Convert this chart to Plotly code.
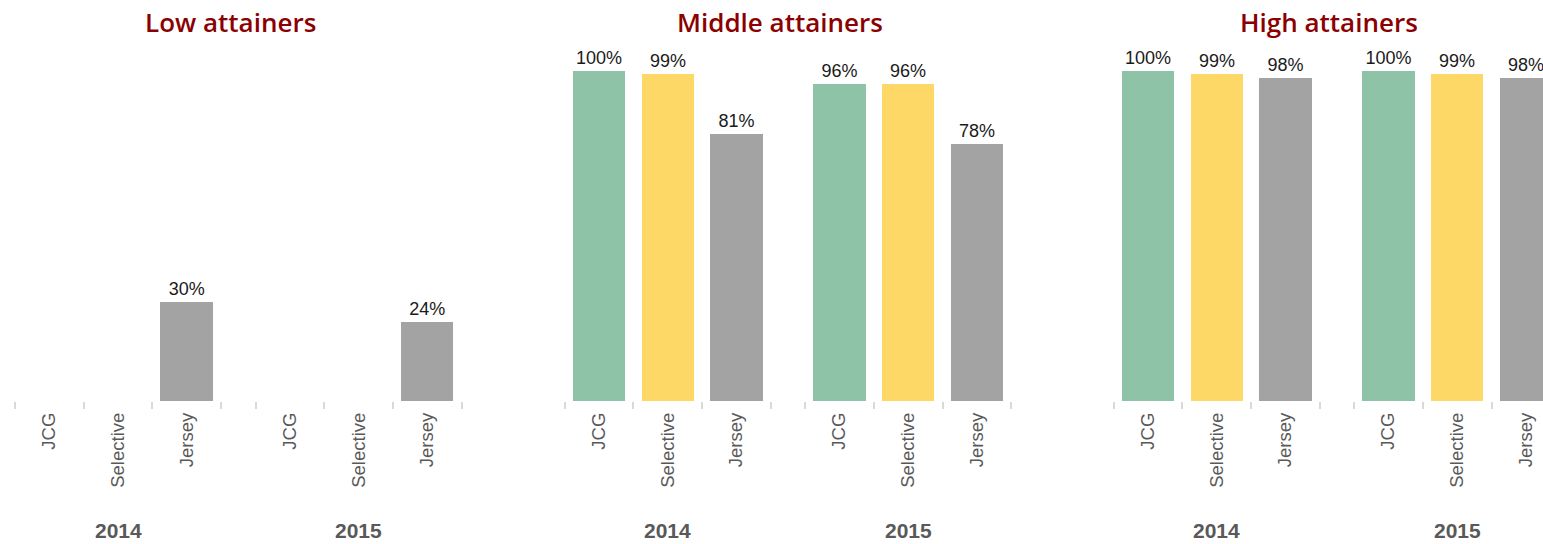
import plotly.graph_objects as go

# ---- data ----
panels = ["Low attainers", "Middle attainers", "High attainers"]
years = ["2014", "2015"]
categories = ["JCG", "Selective", "Jersey"]
# order within each panel: 2014 JCG, Selective, Jersey, 2015 JCG, Selective, Jersey
low_values = [None, None, 30, None, None, 24]
middle_values = [100, 99, 81, 96, 96, 78]
high_values = [100, 99, 98, 100, 99, 98]
panel_values = [low_values, middle_values, high_values]

colors = {"JCG": "#8FC3A8", "Selective": "#FDD866", "Jersey": "#A3A3A3"}

# ---- layout geometry ----
W, H = 1543, 544
unit = 68.7                      # px per category slot
centers0 = [49.4, 599.0, 1148.0]  # pixel position of x=0 in each panel
group_gap = 3.5                  # offset of second year group
x_lo = -0.7

fig = go.Figure()

axis_names = ["", "2", "3"]
for p, (title, vals) in enumerate(zip(panels, panel_values)):
    xa = "x" + axis_names[p]
    ya = "y" + axis_names[p]
    positions = []
    labels = []
    for yi, yr in enumerate(years):
        for ci, cat in enumerate(categories):
            positions.append(yi * group_gap + ci)
            labels.append(cat)
    for ci, cat in enumerate(categories):
        xs, ys = [], []
        for yi in range(len(years)):
            idx = yi * len(categories) + ci
            xs.append(positions[idx])
            ys.append(vals[idx])
        fig.add_trace(go.Bar(
            x=xs, y=ys, xaxis=xa, yaxis=ya, width=0.76,
            marker=dict(color=colors[cat], line=dict(width=0)),
            text=[f"{v}%" if v is not None else "" for v in ys],
            textposition="outside", cliponaxis=False,
            textfont=dict(family="Liberation Sans, Arial", size=18, color="#1a1a1a"),
            showlegend=False, hoverinfo="skip",
        ))

    start_px = centers0[p] + x_lo * unit
    if p < 2:
        x_hi = 7.3
        end_px = start_px + (x_hi - x_lo) * unit
    else:
        end_px = W
        x_hi = x_lo + (end_px - start_px) / unit
    boundaries = []
    for yi in range(len(years)):
        for k in range(len(categories) + 1):
            boundaries.append(yi * group_gap + k - 0.5)
    key_x = "xaxis" + axis_names[p]
    key_y = "yaxis" + axis_names[p]
    fig.layout[key_x] = dict(
        domain=[max(start_px, 0) / W, min(end_px, W) / W],
        range=[x_lo if start_px >= 0 else x_lo - start_px / unit, x_hi],
        anchor=ya,
        tickmode="array", tickvals=positions, ticktext=labels,
        tickangle=-90, ticks="",
        tickfont=dict(family="Liberation Sans, Arial", size=18.5, color="#595959"),
        showgrid=False, zeroline=False, showline=False,
        minor=dict(tickmode="array", tickvals=boundaries, ticks="outside",
                   ticklen=7, tickwidth=1.5, tickcolor="#D9D9D9", showgrid=False),
        ticklabelstandoff=7,
    )
    fig.layout[key_y] = dict(domain=[0, 1], range=[0, 106.36], visible=False,
                             anchor=xa)

    # panel title
    fig.add_annotation(
        text=title, xref=xa, yref="paper", x=2.63, y=1.08,
        xanchor="center", yanchor="middle", showarrow=False,
        font=dict(family="Open Sans", size=26, color="#8B0000", weight=600),
    )
    # year labels
    for yi, yr in enumerate(years):
        fig.add_annotation(
            text=f"<b>{yr}</b>", xref=xa, yref="paper",
            x=yi * group_gap + 1, y=-0.369,
            xanchor="center", yanchor="middle", showarrow=False,
            font=dict(family="Liberation Sans, Arial", size=21, color="#595959"),
        )

fig.update_layout(
    width=W, height=H,
    margin=dict(l=0, r=0, t=50, b=143),
    paper_bgcolor="white", plot_bgcolor="white",
    barmode="overlay", bargap=0,
)

fig.write_html("out.html")
